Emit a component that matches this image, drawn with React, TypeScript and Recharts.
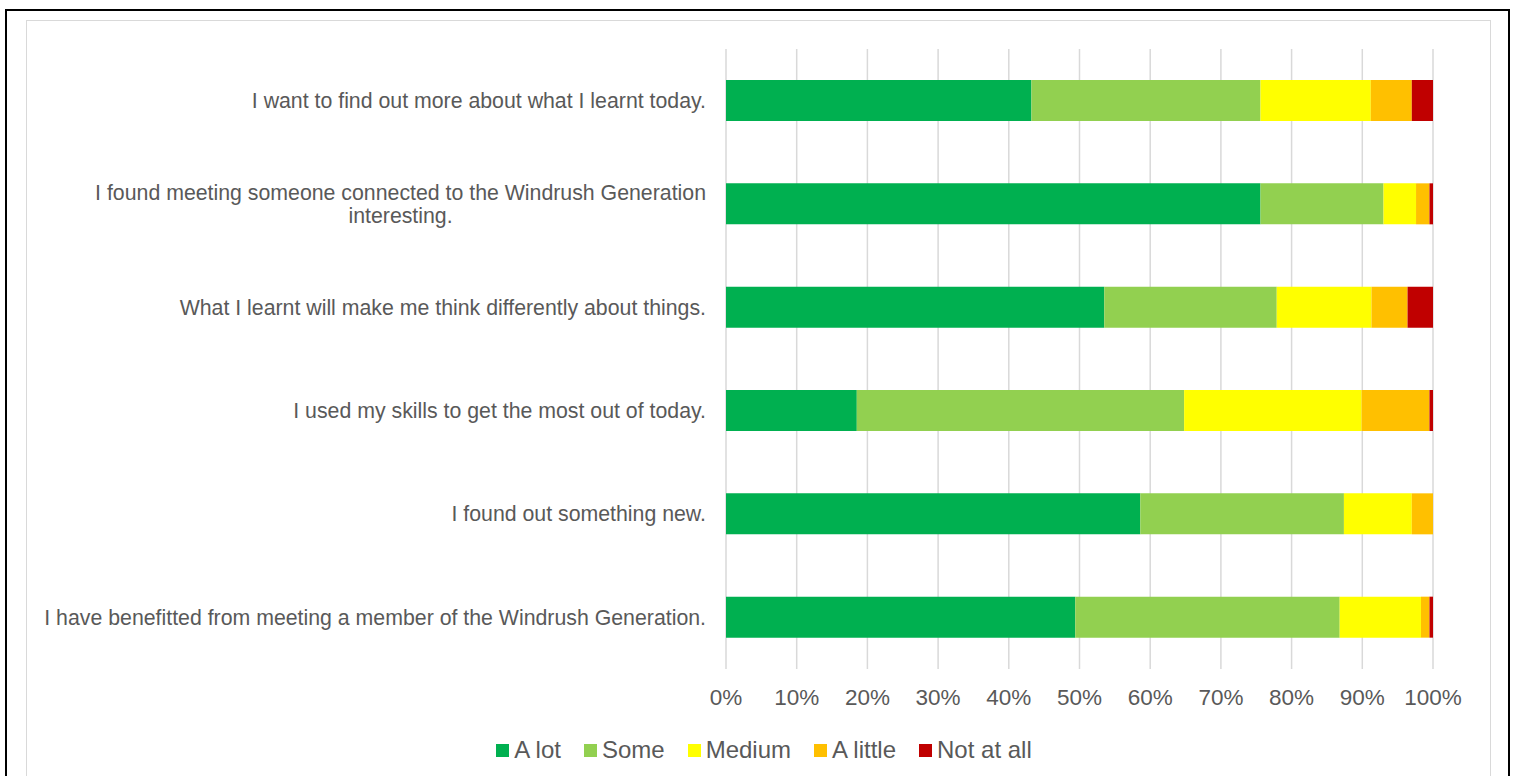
import { BarChart, Bar, XAxis, YAxis, CartesianGrid, Legend } from "recharts";

const FONT = "'Liberation Sans', Arial, sans-serif";
const INK = "#595959";
const GRID = "#d9d9d9";

// "\n" marks where Excel wrapped the label
const categories = [
  "I want to find out more about what I learnt today.",
  "I found meeting someone connected to the Windrush Generation\ninteresting.",
  "What I learnt will make me think differently about things.",
  "I used my skills to get the most out of today.",
  "I found out something new.",
  "I have benefitted from meeting a member of the Windrush Generation.",
];

const aLot = [43.2, 75.6, 53.5, 18.5, 58.6, 49.4];
const some = [32.4, 17.4, 24.4, 46.3, 28.8, 37.4];
const medium = [15.6, 4.6, 13.4, 25.1, 9.6, 11.5];
const aLittle = [5.8, 1.9, 5.1, 9.6, 3.0, 1.2];
const notAtAll = [3.0, 0.5, 3.6, 0.5, 0, 0.5];

const xTicks = [0, 10, 20, 30, 40, 50, 60, 70, 80, 90, 100];

const series = [
  { key: "aLot", name: "A lot", color: "#00b050" },
  { key: "some", name: "Some", color: "#92d050" },
  { key: "medium", name: "Medium", color: "#ffff00" },
  { key: "aLittle", name: "A little", color: "#ffc000" },
  { key: "notAtAll", name: "Not at all", color: "#c00000" },
];

const data = categories.map((label, i) => ({
  label,
  aLot: aLot[i],
  some: some[i],
  medium: medium[i],
  aLittle: aLittle[i],
  notAtAll: notAtAll[i],
}));

const LABEL_SIZE = 21.3;

let ctx: CanvasRenderingContext2D | null = null;
function textWidth(s: string) {
  if (!ctx) ctx = document.createElement("canvas").getContext("2d");
  if (!ctx) return s.length * LABEL_SIZE * 0.5;
  ctx.font = `${LABEL_SIZE}px 'Liberation Sans'`;
  return ctx.measureText(s).width;
}

function CategoryTick(props: any) {
  const { x, y, payload } = props;
  const lines: string[] = String(payload.value).split("\n");
  const lh = 23.5;
  const top = y - ((lines.length - 1) * lh) / 2;
  if (lines.length === 1) {
    return (
      <text x={x} y={y} dy="0.35em" textAnchor="end" fill={INK} fontSize={LABEL_SIZE} fontFamily={FONT}>
        {lines[0]}
      </text>
    );
  }
  const w = Math.max(...lines.map(textWidth));
  const cx = x - w / 2;
  return (
    <text textAnchor="middle" fill={INK} fontSize={LABEL_SIZE} fontFamily={FONT}>
      {lines.map((l, i) => (
        <tspan key={i} x={cx} y={top + i * lh} dy="0.35em">
          {l}
        </tspan>
      ))}
    </text>
  );
}

function LegendContent() {
  return (
    <div
      style={{
        display: "flex",
        justifyContent: "center",
        alignItems: "center",
        fontFamily: FONT,
        fontSize: 24,
        color: INK,
        height: 52,
        paddingLeft: 12,
        boxSizing: "border-box",
      }}
    >
      {series.map((s, i) => (
        <div
          key={s.key}
          style={{ display: "flex", alignItems: "center", marginRight: i === series.length - 1 ? 0 : 23 }}
        >
          <span style={{ width: 13, height: 13, background: s.color, marginRight: 5, display: "inline-block" }} />
          <span>{s.name}</span>
        </div>
      ))}
    </div>
  );
}

export default function App() {
  return (
    <div style={{ position: "fixed", left: 0, top: 0, width: 1517, height: 776, background: "#fff", overflow: "hidden" }}>
      <div
        style={{
          position: "absolute",
          left: 5,
          top: 9,
          width: 1505,
          height: 800,
          border: "2px solid #000",
          boxSizing: "border-box",
        }}
      />
      <div
        style={{
          position: "absolute",
          left: 26,
          top: 20,
          width: 1465,
          height: 800,
          border: "1px solid #d9d9d9",
          boxSizing: "border-box",
        }}
      />
      <div style={{ position: "absolute", left: 26, top: 20 }}>
        <BarChart
          width={1464}
          height={756}
          data={data}
          layout="vertical"
          margin={{ top: 29, right: 57, left: 0, bottom: 0 }}
        >
          <CartesianGrid horizontal={false} stroke={GRID} strokeWidth={1.5} />
          <XAxis
            type="number"
            domain={[0, 100]}
            ticks={xTicks}
            tickFormatter={(v) => `${v}%`}
            axisLine={false}
            tickLine={false}
            tickSize={0}
            tickMargin={20}
            height={55}
            interval={0}
            tick={{ fill: INK, fontSize: 22.5, fontFamily: FONT }}
          />
          <YAxis
            type="category"
            dataKey="label"
            width={700}
            axisLine={false}
            tickLine={false}
            tickSize={0}
            tickMargin={20}
            interval={0}
            tick={<CategoryTick />}
          />
          <Legend
            verticalAlign="bottom"
            height={52}
            wrapperStyle={{ left: 0, width: 1464 }}
            content={<LegendContent />}
          />
          {series.map((s) => (
            <Bar
              key={s.key}
              dataKey={s.key}
              name={s.name}
              stackId="a"
              fill={s.color}
              barSize={41}
              isAnimationActive={false}
            />
          ))}
        </BarChart>
      </div>
    </div>
  );
}
